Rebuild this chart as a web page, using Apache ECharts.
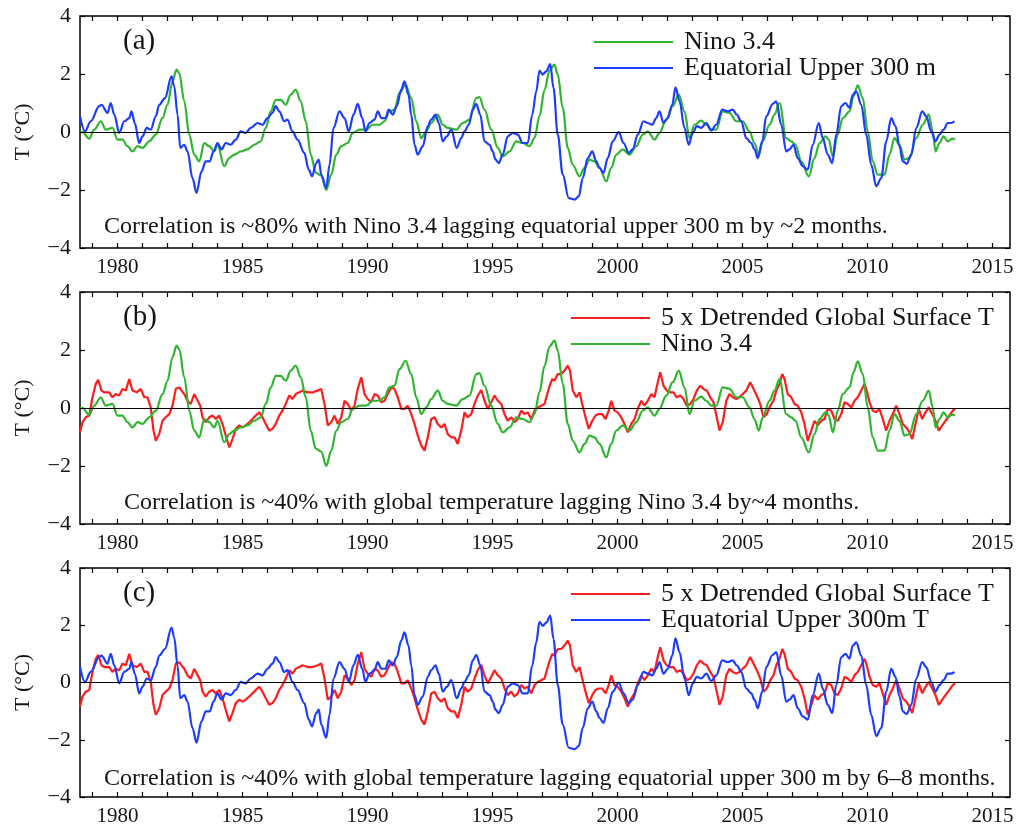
<!DOCTYPE html>
<html>
<head>
<meta charset="utf-8">
<script src="https://cdn.jsdelivr.net/npm/echarts@6/dist/echarts.min.js"></script>
<style>
  html, body { margin: 0; padding: 0; background: #fff; }
  #chart { width: 1023px; height: 827px; }
</style>
</head>
<body>
<div id="chart"></div>
<script>
// ---- Data (decimal year, °C) ----
const ninoYears = [1978.5,1978.6,1978.87,1979.07,1979.33,1979.53,1979.8,1980.0,1980.2,1980.4,
  1980.6,1980.8,1981.0,1981.27,1981.53,1981.8,1982.0,1982.2,1982.36,1982.47,
  1982.67,1982.87,1983.07,1983.27,1983.47,1983.67,1983.87,1984.0,1984.27,1984.47,
  1984.67,1984.93,1985.2,1985.47,1985.73,1985.93,1986.13,1986.33,1986.53,1986.73,
  1986.93,1987.13,1987.33,1987.53,1987.73,1987.93,1988.15,1988.35,1988.55,1988.75,
  1988.95,1989.21,1989.41,1989.68,1989.95,1990.21,1990.48,1990.68,1990.88,1991.08,
  1991.28,1991.52,1991.75,1991.95,1992.15,1992.35,1992.55,1992.81,1993.01,1993.21,
  1993.55,1993.81,1994.08,1994.35,1994.48,1994.68,1994.95,1995.21,1995.41,1995.68,
  1995.95,1996.21,1996.48,1996.68,1996.88,1997.08,1997.28,1997.48,1997.61,1997.81,
  1998.01,1998.21,1998.48,1998.68,1998.88,1999.08,1999.28,1999.55,1999.75,1999.95,
  2000.21,2000.48,2000.75,2001.01,2001.21,2001.48,2001.68,2001.95,2002.21,2002.45,
  2002.68,2002.88,2003.08,2003.35,2003.55,2003.75,2003.95,2004.21,2004.48,2004.75,
  2005.01,2005.28,2005.48,2005.65,2005.81,2006.08,2006.28,2006.48,2006.75,2006.95,
  2007.12,2007.35,2007.65,2007.88,2008.08,2008.32,2008.45,2008.61,2008.81,2009.01,
  2009.28,2009.44,2009.61,2009.81,2010.01,2010.21,2010.41,2010.68,2010.88,2011.08,
  2011.28,2011.48,2011.68,2011.95,2012.21,2012.45,2012.61,2012.72,2012.88,2013.04,
  2013.21,2013.39,2013.5];
const ninoValues = [0,0,-0.23,0.08,0.37,0.08,0.14,-0.26,-0.26,-0.49,
  -0.67,-0.49,-0.55,-0.32,-0.09,0.48,0.94,1.75,2.15,2.03,
  1.06,-0.09,-0.78,-1.01,-0.38,-0.49,-0.67,-0.44,-1.18,-0.9,
  -0.78,-0.67,-0.6,-0.44,-0.32,0.14,0.71,1.11,1.11,0.94,
  1.29,1.46,1.06,0.37,-0.78,-1.4,-1.5,-2.0,-1.47,-0.78,
  -0.49,-0.38,-0.03,0.08,0.08,0.25,0.25,0.37,0.71,0.77,
  1.34,1.63,1.17,0.37,-0.21,0.02,0.31,0.6,0.25,0.14,
  0.08,0.31,0.43,1.17,1.2,0.77,0.08,-0.55,-0.84,-0.67,
  -0.32,-0.38,-0.49,-0.21,0.55,1.45,2.12,2.32,1.98,0.83,
  -0.55,-1.13,-1.53,-1.24,-0.95,-1.01,-1.24,-1.7,-1.24,-0.78,
  -0.6,-0.78,-0.49,-0.09,0.02,-0.26,-0.03,0.43,0.89,1.29,
  0.71,-0.21,0.25,0.39,0.25,0.08,0.08,0.71,0.66,0.37,
  0.37,0.02,-0.38,-0.78,-0.32,0.25,0.6,1.0,-0.21,-0.32,
  -0.44,-1.01,-1.53,-0.9,-0.38,-0.15,-0.26,-0.84,-0.09,0.48,
  0.71,1.23,1.61,1.17,0.02,-1.01,-1.47,-1.47,-0.78,-0.21,
  -0.44,-0.95,-0.9,-0.21,0.25,0.6,0.02,-0.67,-0.38,-0.15,
  -0.32,-0.23,-0.26];

const eqYears = [1978.5,1978.7,1978.93,1979.27,1979.36,1979.6,1979.73,1979.87,1980.07,1980.27,
  1980.47,1980.56,1980.69,1980.87,1981.0,1981.17,1981.33,1981.53,1981.67,1981.9,
  1982.16,1982.27,1982.4,1982.51,1982.67,1982.8,1983.0,1983.16,1983.36,1983.53,
  1983.69,1983.84,1984.0,1984.16,1984.33,1984.53,1984.73,1984.93,1985.13,1985.33,
  1985.6,1985.8,1986.0,1986.2,1986.33,1986.47,1986.67,1986.8,1987.0,1987.2,
  1987.47,1987.65,1987.78,1987.95,1988.05,1988.15,1988.35,1988.48,1988.64,1988.88,
  1989.08,1989.25,1989.44,1989.61,1989.79,1989.92,1990.08,1990.28,1990.41,1990.55,
  1990.72,1990.85,1991.01,1991.17,1991.35,1991.48,1991.64,1991.75,1991.88,1992.01,
  1992.21,1992.41,1992.55,1992.72,1992.85,1993.01,1993.17,1993.35,1993.57,1993.75,
  1993.88,1994.05,1994.21,1994.35,1994.51,1994.68,1994.88,1995.01,1995.12,1995.25,
  1995.41,1995.61,1995.81,1996.01,1996.21,1996.41,1996.59,1996.75,1996.88,1997.01,
  1997.15,1997.31,1997.44,1997.61,1997.81,1998.05,1998.28,1998.45,1998.61,1998.81,
  1998.99,1999.15,1999.28,1999.44,1999.61,1999.81,2000.05,2000.24,2000.45,2000.61,
  2000.81,2001.04,2001.21,2001.39,2001.55,2001.68,2001.84,2002.01,2002.19,2002.32,
  2002.48,2002.68,2002.85,2003.01,2003.17,2003.35,2003.55,2003.75,2003.95,2004.19,
  2004.41,2004.61,2004.77,2004.95,2005.15,2005.35,2005.48,2005.61,2005.79,2005.95,
  2006.21,2006.35,2006.55,2006.75,2006.88,2007.04,2007.21,2007.41,2007.61,2007.81,
  2008.05,2008.21,2008.41,2008.59,2008.75,2008.95,2009.12,2009.28,2009.41,2009.55,
  2009.75,2009.95,2010.15,2010.35,2010.55,2010.75,2010.95,2011.12,2011.28,2011.41,
  2011.57,2011.75,2011.95,2012.19,2012.35,2012.55,2012.72,2012.88,2013.04,2013.21,
  2013.35,2013.48];
const eqValues = [0.54,0.02,0.37,0.89,0.94,0.66,1.0,0.6,-0.03,0.37,
  0.48,0.71,0.31,-0.38,-0.15,0.14,0.08,0.54,0.94,1.17,
  1.92,1.57,0.6,-0.55,-0.44,-0.67,-1.59,-2.1,-1.36,-1.01,
  -1.01,-0.67,-0.38,-0.6,-0.38,-0.44,-0.26,0.02,-0.03,0.14,
  0.31,0.25,0.48,0.66,0.89,0.71,0.37,0.43,0.02,-0.26,
  -0.72,-1.3,-1.53,-1.07,-0.95,-1.47,-1.93,-1.13,0.14,0.71,
  0.48,0.02,0.6,0.97,0.48,0.02,0.31,0.43,0.71,0.48,
  0.48,0.77,0.6,0.89,1.46,1.75,1.29,0.6,-0.44,-0.78,
  -0.49,0.2,0.43,0.6,0.31,-0.32,-0.15,0.08,-0.55,-0.21,
  0.02,0.25,0.77,0.97,0.6,-0.32,-0.44,-0.67,-0.95,-1.07,
  -0.78,-0.15,-0.03,-0.09,-0.38,-0.38,0.6,1.4,2.12,1.98,
  2.09,2.34,1.52,-0.09,-1.47,-2.28,-2.33,-2.22,-1.59,-0.9,
  -0.67,-1.01,-1.24,-1.41,-0.9,-0.32,0,-0.38,-0.72,-0.6,
  -0.09,0.37,0.31,0.25,0.48,0.71,0.31,0.48,0.94,1.54,
  1.06,0.14,-0.44,-0.03,0.2,0.14,0.31,0.05,0.25,0.77,
  0.71,0.77,0.6,0.37,-0.21,-0.38,-0.6,-0.9,-0.32,0.54,
  0.97,1.06,0.25,-0.67,-0.6,-0.44,-0.9,-1.18,-1.3,-0.44,
  0.31,-0.21,-0.78,-1.07,-0.09,0.89,1.0,0.83,1.29,1.4,
  0.94,-0.09,-1.13,-1.87,-1.59,-0.32,0.48,0.2,-0.49,-1.01,
  -1.1,-0.78,0.14,0.71,0.54,0.02,-0.32,-0.09,0.08,0.31,
  0.31,0.37];

// 5 x detrended global surface temperature
const gstYears = [1978.5,1978.6,1978.73,1978.87,1979.0,1979.13,1979.23,1979.36,1979.47,1979.67,
  1979.8,1979.93,1980.07,1980.2,1980.33,1980.47,1980.6,1980.77,1980.93,1981.07,
  1981.2,1981.33,1981.44,1981.53,1981.67,1981.8,1981.93,1982.07,1982.2,1982.33,
  1982.47,1982.56,1982.67,1982.8,1982.93,1983.07,1983.17,1983.31,1983.4,1983.53,
  1983.67,1983.8,1983.93,1984.07,1984.2,1984.33,1984.47,1984.6,1984.73,1984.87,
  1985.0,1985.13,1985.27,1985.4,1985.53,1985.67,1985.8,1985.93,1986.07,1986.2,
  1986.33,1986.47,1986.6,1986.73,1986.87,1987.0,1987.13,1987.27,1987.4,1987.6,
  1987.8,1988.01,1988.15,1988.28,1988.41,1988.55,1988.68,1988.81,1988.95,1989.08,
  1989.21,1989.35,1989.48,1989.61,1989.75,1989.88,1990.01,1990.15,1990.28,1990.41,
  1990.55,1990.68,1990.81,1990.95,1991.08,1991.21,1991.35,1991.48,1991.61,1991.75,
  1991.88,1992.01,1992.15,1992.28,1992.41,1992.55,1992.68,1992.81,1992.95,1993.08,
  1993.21,1993.35,1993.48,1993.61,1993.75,1993.88,1994.01,1994.15,1994.28,1994.41,
  1994.55,1994.68,1994.81,1994.95,1995.08,1995.21,1995.35,1995.48,1995.61,1995.75,
  1995.88,1996.01,1996.15,1996.28,1996.41,1996.55,1996.68,1996.81,1996.95,1997.08,
  1997.18,1997.28,1997.39,1997.48,1997.61,1997.75,1997.88,1998.01,1998.1,1998.21,
  1998.35,1998.48,1998.59,1998.72,1998.85,1998.99,1999.12,1999.25,1999.39,1999.52,
  1999.65,1999.75,1999.88,2000.01,2000.15,2000.28,2000.41,2000.55,2000.68,2000.81,
  2000.95,2001.08,2001.21,2001.35,2001.48,2001.61,2001.71,2001.84,2001.97,2002.11,
  2002.24,2002.37,2002.51,2002.64,2002.77,2002.91,2003.04,2003.17,2003.31,2003.44,
  2003.57,2003.71,2003.84,2003.97,2004.08,2004.21,2004.35,2004.48,2004.61,2004.75,
  2004.88,2005.01,2005.15,2005.31,2005.44,2005.57,2005.71,2005.84,2005.97,2006.11,
  2006.24,2006.35,2006.48,2006.59,2006.68,2006.81,2006.95,2007.08,2007.21,2007.35,
  2007.48,2007.61,2007.75,2007.88,2008.01,2008.15,2008.28,2008.41,2008.55,2008.68,
  2008.81,2008.95,2009.08,2009.21,2009.35,2009.48,2009.61,2009.75,2009.88,2009.97,
  2010.08,2010.21,2010.35,2010.48,2010.61,2010.75,2010.88,2011.01,2011.15,2011.28,
  2011.41,2011.55,2011.68,2011.79,2011.92,2012.05,2012.19,2012.32,2012.45,2012.59,
  2012.72,2012.85,2012.99,2013.12,2013.28,2013.41,2013.51];
const gstValues = [-0.84,-0.49,-0.32,-0.26,0.37,0.83,0.97,0.6,0.54,0.54,
  0.37,0.48,0.43,0.66,0.6,1.0,0.6,0.54,0.66,0.37,
  0.37,0.02,-0.78,-1.13,-0.9,-0.44,-0.32,-0.21,0.08,0.66,
  0.71,0.6,0.48,0.25,0.14,0.48,0.31,0.08,-0.32,-0.49,
  -0.32,-0.26,-0.38,-0.26,-0.55,-0.95,-1.36,-1.07,-0.72,-0.6,
  -0.67,-0.6,-0.49,-0.38,-0.26,-0.15,-0.32,-0.55,-0.78,-0.72,
  -0.55,-0.26,-0.09,0.14,0.43,0.31,0.48,0.54,0.6,0.54,
  0.54,0.6,0.66,0.14,-0.6,-0.49,-0.26,-0.55,-0.32,0.25,
  0.14,-0.09,0.08,0.66,1.06,0.48,0.31,0.2,0.48,0.43,
  0.2,0.25,0.48,0.71,0.66,0.37,-0.03,-0.03,0.08,-0.21,
  -0.55,-0.95,-1.3,-1.47,-1.01,-0.38,-0.32,-0.55,-0.67,-0.55,
  -0.9,-1.01,-1.01,-1.24,-0.78,-0.15,-0.32,-0.21,0.14,0.43,
  0.62,0.25,-0.03,0.2,0.43,0.25,0.14,-0.21,-0.44,-0.32,
  -0.49,-0.38,-0.09,-0.21,-0.15,-0.38,-0.09,0.02,0.08,0.14,
  0.45,0.75,1.0,0.94,1.17,1.17,1.29,1.46,1.29,0.6,
  0.37,0.54,0.14,-0.32,-0.72,-0.44,-0.26,-0.21,-0.21,-0.38,
  -0.09,0.25,-0.09,-0.15,-0.32,-0.55,-0.84,-0.55,-0.38,-0.03,
  0.25,0.08,0.25,0.48,0.37,0.89,1.23,0.77,0.6,0.54,
  0.54,0.37,0.43,0.31,0.08,0.14,0.31,0.6,0.77,0.66,
  0.6,0.37,0.2,-0.32,-0.78,-0.49,0.25,0.48,0.37,0.31,
  0.37,0.48,0.6,0.89,0.66,0.43,0.14,-0.32,-0.21,0.08,
  0.25,0.6,0.83,1.17,1.0,0.48,0.37,0.14,0.08,-0.15,
  -0.55,-1.13,-0.78,-0.44,-0.6,-0.44,-0.38,-0.03,-0.09,-0.38,
  -0.44,-0.21,0.2,0.14,0.02,0.25,0.37,0.6,0.83,0.6,
  0.2,-0.09,-0.15,-0.03,-0.38,-0.78,-0.44,-0.21,0.08,-0.21,
  -0.55,-0.67,-0.84,-1.07,-0.55,-0.03,-0.38,-0.15,0.02,-0.21,
  -0.44,-0.78,-0.6,-0.44,-0.26,-0.09,-0.03];

// Axis ticks and labels
const yearTicks = [];
for (let y = 1979; y <= 2015; y++) yearTicks.push(y);
const yearLabels = [1980, 1985, 1990, 1995, 2000, 2005, 2010, 2015];
const tempTicks = [-4, -2, 0, 2, 4];

const NAME_NINO = 'Nino 3.4';
const NAME_EQ_A = 'Equatorial Upper 300 m';
const NAME_EQ_C = 'Equatorial Upper 300m T';
const NAME_GST = '5 x Detrended Global Surface T';

// ---- Styling ----
const FONT = '"Liberation Serif", "Times New Roman", serif';
const INK = '#151515';
const GREEN = '#2fb52f';
const BLUE = '#1c3cff';
const RED = '#ff1c1c';
const X_MIN = 1978.5, X_MAX = 2015.7;
const PANEL_TOPS = [16, 292, 568];
const PLOT_H = 232;

const pairs = (xs, ys) => xs.map((x, i) => [x, ys[i]]);
const fmtTemp = v => (v < 0 ? '\u2212' + Math.abs(v) : String(v));

const grids = [], xAxes = [], yAxes = [];
PANEL_TOPS.forEach((top, p) => {
  grids.push({ left: 80, right: 13, top: top, height: PLOT_H, show: true,
    borderColor: '#000', borderWidth: 1.5, backgroundColor: 'transparent' });
  const tick = { inside: true, length: 5, lineStyle: { color: '#000', width: 1.2 } };
  const noLine = { show: false, onZero: false };
  xAxes.push({ gridIndex: p, type: 'value', min: X_MIN, max: X_MAX, position: 'bottom',
    axisLine: noLine, splitLine: { show: false },
    axisTick: Object.assign({ customValues: yearTicks }, tick),
    axisLabel: { customValues: yearLabels, fontFamily: FONT, fontSize: 21, color: INK,
      margin: 9, formatter: v => String(Math.round(v)) } });
  xAxes.push({ gridIndex: p, type: 'value', min: X_MIN, max: X_MAX, position: 'top',
    axisLine: noLine, splitLine: { show: false },
    axisTick: Object.assign({ customValues: yearTicks }, tick),
    axisLabel: { show: false } });
  yAxes.push({ gridIndex: p, type: 'value', min: -4, max: 4, interval: 2, position: 'left',
    name: 'T (\u00B0C)', nameLocation: 'middle', nameGap: 46, nameRotate: 90,
    nameTextStyle: { fontFamily: FONT, fontSize: 22, color: INK },
    axisLine: noLine, splitLine: { show: false },
    axisTick: Object.assign({ customValues: tempTicks }, tick),
    axisLabel: { fontFamily: FONT, fontSize: 22, color: INK, margin: 9, formatter: fmtTemp } });
  yAxes.push({ gridIndex: p, type: 'value', min: -4, max: 4, interval: 2, position: 'right',
    axisLine: noLine, splitLine: { show: false },
    axisTick: Object.assign({ customValues: tempTicks }, tick),
    axisLabel: { show: false } });
});

const zeroLine = {
  silent: true, symbol: 'none', label: { show: false },
  lineStyle: { color: '#000', width: 1, type: 'solid' },
  data: [{ yAxis: 0 }]
};

function lineSeries(name, xs, ys, color, panel, smooth, withZero) {
  const s = {
    name: name, type: 'line', xAxisIndex: panel * 2, yAxisIndex: panel * 2,
    data: pairs(xs, ys), showSymbol: false, symbol: 'none',
    smooth: smooth, smoothMonotone: 'x',
    lineStyle: { color: color, width: 2.2 }, itemStyle: { color: color },
    emphasis: { disabled: true }
  };
  if (withZero) s.markLine = zeroLine;
  return s;
}

const series = [
  // (a)
  lineSeries(NAME_NINO, ninoYears, ninoValues, GREEN, 0, 0.35, true),
  lineSeries(NAME_EQ_A, eqYears, eqValues, BLUE, 0, 0.35, false),
  // (b)
  lineSeries(NAME_GST, gstYears, gstValues, RED, 1, false, true),
  lineSeries(NAME_NINO, ninoYears, ninoValues, GREEN, 1, 0.35, false),
  // (c)
  lineSeries(NAME_GST, gstYears, gstValues, RED, 2, false, true),
  lineSeries(NAME_EQ_C, eqYears, eqValues, BLUE, 2, 0.35, false)
];

function legendAt(left, top, names) {
  return {
    left: left, top: top, orient: 'vertical', icon: 'rect',
    itemWidth: 79, itemHeight: 2, itemGap: 0, selectedMode: false,
    data: names,
    textStyle: { fontFamily: FONT, fontSize: 26, lineHeight: 26, color: INK, padding: [0, 0, 0, 6] }
  };
}

function label(text, left, top, size) {
  return { type: 'text', left: left, top: top, silent: true,
    style: { text: text, font: size + 'px ' + FONT, fill: INK } };
}

const option = {
  animation: false,
  backgroundColor: '#fff',
  textStyle: { fontFamily: FONT },
  grid: grids,
  xAxis: xAxes,
  yAxis: yAxes,
  legend: [
    legendAt(589, 24, [NAME_NINO, NAME_EQ_A]),
    legendAt(566, 300, [NAME_GST, NAME_NINO]),
    legendAt(566, 576, [NAME_GST, NAME_EQ_C])
  ],
  graphic: [
    label('(a)', 123, 27, 29),
    label('(b)', 123, 303, 29),
    label('(c)', 123, 579, 29),
    label('Correlation is ~80% with Nino 3.4 lagging equatorial upper 300 m by ~2 months.', 104, 215, 24),
    label('Correlation is ~40% with global temperature lagging Nino 3.4 by~4 months.', 124, 491, 24),
    label('Correlation is ~40% with global temperature lagging equatorial upper 300 m by 6\u20138 months.', 104, 767, 24)
  ],
  series: series
};

const chart = echarts.init(document.getElementById('chart'), null, { renderer: 'canvas' });
chart.setOption(option);
</script>
</body>
</html>
